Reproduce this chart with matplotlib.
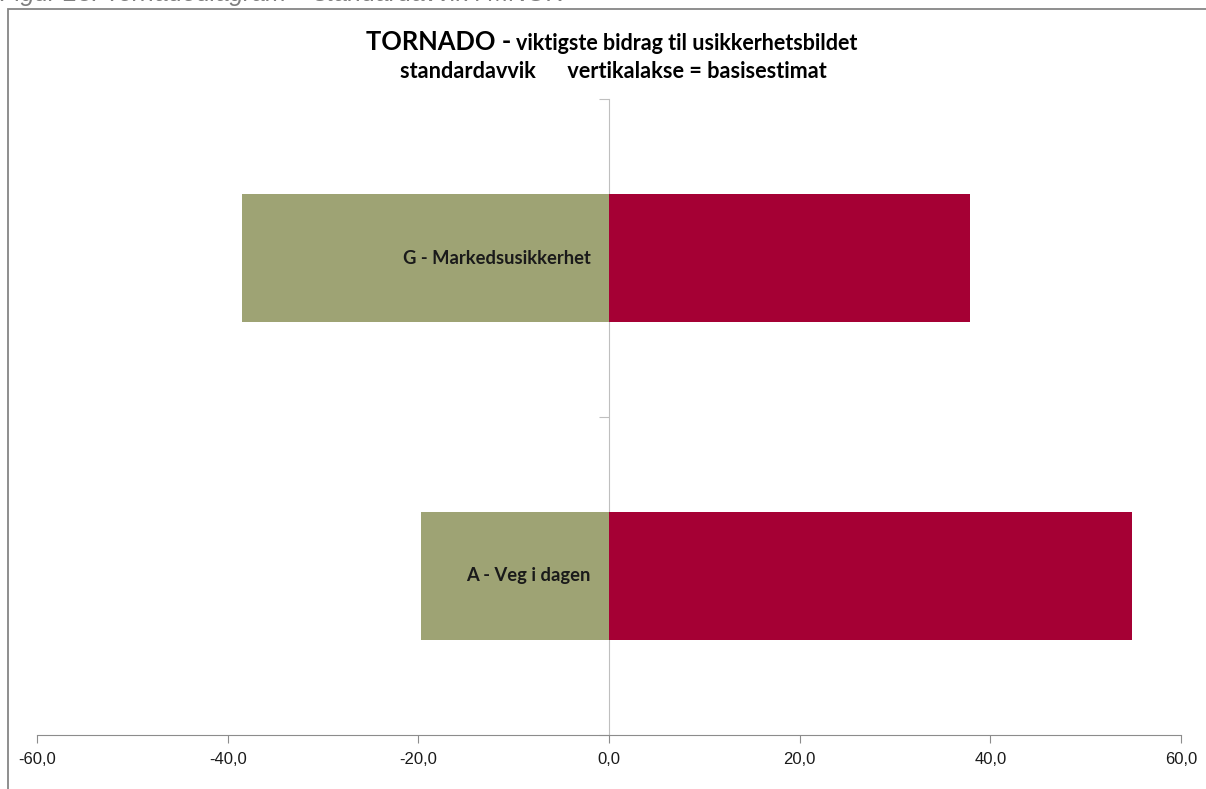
import matplotlib
matplotlib.use("Agg")
import matplotlib.pyplot as plt
import matplotlib.patches as mpatches
import matplotlib.ticker as ticker

# ── Data ──────────────────────────────────────────────────────────────────────
categories = ["A - Veg i dagen", "G - Markedsusikkerhet"]
low_values = [-19.7, -38.5]
high_values = [54.9, 37.9]
x_ticks = [-60, -40, -20, 0, 20, 40, 60]

# ── Style ─────────────────────────────────────────────────────────────────────
LOW_COLOR = "#9EA374"
HIGH_COLOR = "#A50034"
AXIS_COLOR = "#8C8C8C"
FONT = ["Lato", "DejaVu Sans"]

fig = plt.figure(figsize=(12.06, 7.89), dpi=100, facecolor="white")

# clipped caption from the source document + chart frame
fig.text(0.0, 1.008, "Figur 23: Tornadodiagram – standardavvik i MNOK",
         ha="left", va="center", fontsize=18, style="italic",
         color="#7F7F7F", family=["Liberation Sans"])
fig.patches.append(mpatches.Rectangle(
    (8 / 1206, -0.05), 1.2, 1.05 - 9 / 789, transform=fig.transFigure,
    fill=False, edgecolor="#868686", linewidth=1.3))

ax = fig.add_axes([37 / 1206, 1 - 735 / 789, 1144 / 1206, 636 / 789])

ypos = list(range(len(categories)))
ax.barh(ypos, low_values, height=0.4, color=LOW_COLOR, zorder=2)
ax.barh(ypos, high_values, height=0.4, color=HIGH_COLOR, zorder=2)

for y, label in zip(ypos, categories):
    ax.text(-1.9, y, label, ha="right", va="center", fontsize=13.2,
            fontweight="bold", color="#1A1A1A", family=FONT, zorder=3)

ax.set_xlim(-60, 60)
ax.set_ylim(-0.5, 1.5)
ax.set_xticks(x_ticks)
ax.xaxis.set_major_formatter(ticker.FuncFormatter(
    lambda v, _: f"{v:.1f}".replace(".", ",")))
ax.set_yticks([-0.5, 0.5, 1.5])
ax.set_yticklabels([])

for lab in ax.get_xticklabels():
    lab.set_family(["Liberation Sans Narrow", "Liberation Sans"])
    lab.set_fontsize(12)
    lab.set_color("#1A1A1A")

ax.spines["top"].set_visible(False)
ax.spines["right"].set_visible(False)
ax.spines["left"].set_position(("data", 0))
ax.spines["left"].set_color("#BFBFBF")
ax.spines["bottom"].set_color(AXIS_COLOR)
ax.spines["left"].set_zorder(1)
ax.tick_params(axis="x", direction="out", length=6, color=AXIS_COLOR, pad=6)
ax.tick_params(axis="y", direction="out", length=7, color="#BFBFBF")

fig.text(511 / 1206, 1 - 42 / 789, "TORNADO -", ha="right", va="center",
         fontsize=18.4, fontweight="bold", family=FONT)
fig.text(516 / 1206, 1 - 43 / 789, "viktigste bidrag til usikkerhetsbildet",
         ha="left", va="center", fontsize=15.5, fontweight="bold", family=FONT)
fig.text(613 / 1206, 1 - 72 / 789, "standardavvik      vertikalakse = basisestimat",
         ha="center", va="center", fontsize=15.6, fontweight="bold", family=FONT)

fig.savefig("out.png", dpi=100, facecolor="white")
